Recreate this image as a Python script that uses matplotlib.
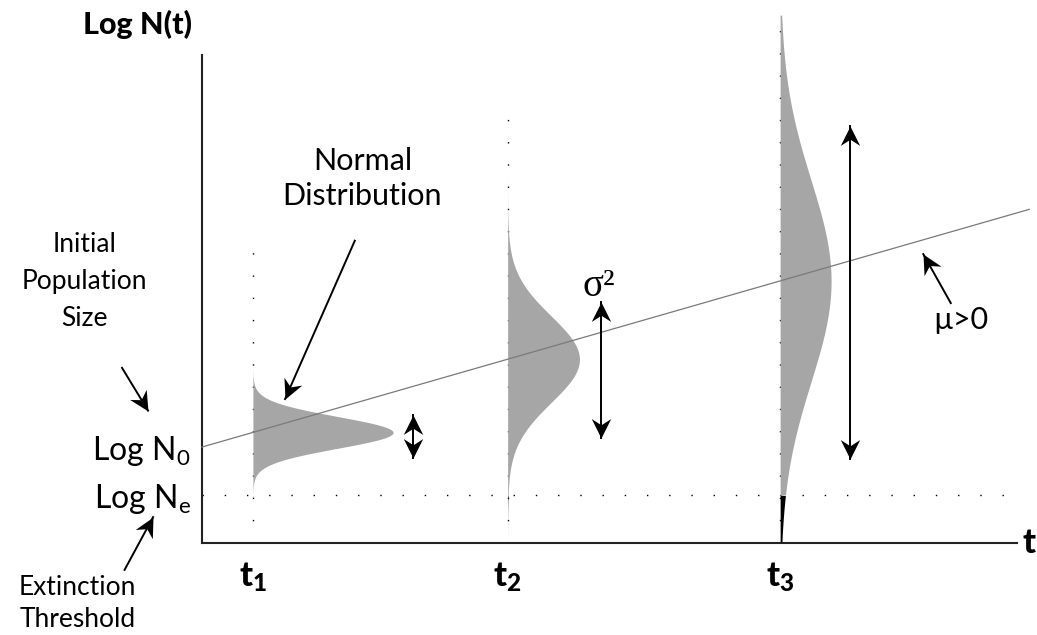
import numpy as np
import matplotlib.pyplot as plt
from matplotlib.path import Path
from matplotlib.markers import MarkerStyle
from matplotlib.transforms import Affine2D

plt.rcParams['font.family'] = ['Lato', 'DejaVu Sans']

# time points and the spread of log N(t) at each one
times = [1.0, 6.0, 11.35]
time_labels = [r'$\mathregular{t_1}$', r'$\mathregular{t_2}$', r'$\mathregular{t_3}$']
log_n0 = 2.0
log_ne = 1.0
mu = 0.305
sds = [0.33, 0.9, 2.1]
peak_widths = [2.75, 1.41, 1.0]
dot_tops = [6.1, 8.9, 11.0]

# double arrows for the variance: x, low end, high end
spread_x = [4.14, 7.84, 12.73]
spread_lo = [1.77, 2.19, 1.75]
spread_hi = [2.67, 5.02, 8.69]

t_end = 16.0
y_end = 10.17
line_end = 16.24

GREY = '#a6a6a6'

fig = plt.figure(figsize=(10.37, 6.35), dpi=100)
ax = fig.add_axes([202 / 1037, 92 / 635, 815 / 1037, 488 / 635])
ax.set_xlim(0, t_end)
ax.set_ylim(0, y_end)

for s in ['top', 'right']:
    ax.spines[s].set_visible(False)
for s in ['left', 'bottom']:
    ax.spines[s].set_linewidth(1.5)
    ax.spines[s].set_color('#222222')

ax.set_xticks(times, time_labels, fontsize=25, fontweight='black')
ax.set_yticks([log_ne, log_n0], [r'Log N$_\mathregular{e}$', r'Log N$_\mathregular{0}$'],
              fontsize=23)
ax.tick_params(axis='x', length=0, pad=13)
ax.tick_params(axis='y', length=0, pad=8)

dots = dict(color='black', lw=1.0, ls=(0, (1, 15)), clip_on=False)
ax.plot([0, t_end], [log_ne, log_ne], **dots)

# the distributions of log N at each time, black part below the threshold
for t, sd, w, top in zip(times, sds, peak_widths, dot_tops):
    ax.plot([t, t], [0, top], **dots)
    m = log_n0 + mu * t
    y = np.linspace(max(m - 4.5 * sd, 0), min(m + 4.5 * sd, top), 600)
    x = t + w * np.exp(-0.5 * ((y - m) / sd) ** 2)
    ax.fill_betweenx(y, t, x, where=y >= log_ne, interpolate=True,
                     color=GREY, lw=0, clip_on=False, zorder=2)
    ax.fill_betweenx(y, t, x, where=y <= log_ne, interpolate=True,
                     color='black', lw=0, clip_on=False, zorder=2)

ax.plot([0, line_end], [log_n0, log_n0 + mu * line_end], color='#7a7a7a',
        lw=0.9, clip_on=False, zorder=3)

# notched arrow head marker, tip at the origin pointing along +x
head = Path([(0, 0), (-1, 0.5), (-0.68, 0), (-1, -0.5), (0, 0)],
            [Path.MOVETO, Path.LINETO, Path.LINETO, Path.LINETO, Path.CLOSEPOLY])


def arrow(x0, y0, x1, y1, both=False, size=28):
    ax.plot([x0, x1], [y0, y1], color='black', lw=1.4, clip_on=False, zorder=4)
    p0 = ax.transData.transform((x0, y0))
    p1 = ax.transData.transform((x1, y1))
    ang = np.degrees(np.arctan2(p1[1] - p0[1], p1[0] - p0[0]))
    ends = [(x1, y1, ang)]
    if both:
        ends.append((x0, y0, ang + 180))
    for x, y, a in ends:
        mk = MarkerStyle(head, transform=Affine2D().rotate_deg(a))
        ax.plot([x], [y], marker=mk, ms=size, color='black', mew=0,
                clip_on=False, zorder=5)


for x, lo, hi in zip(spread_x, spread_lo, spread_hi):
    arrow(x, lo, x, hi, both=True)

arrow(3.0, 6.3, 1.63, 3.00)
arrow(-1.57, 3.65, -1.06, 2.76)
arrow(-1.52, -0.56, -0.96, 0.54)
arrow(14.7, 5.0, 14.16, 6.02)

ax.text(-1.27, 10.8, 'Log N(t)', fontsize=22, fontweight='black',
        ha='center', va='center')
ax.text(16.23, 0.0, 't', fontsize=25, fontweight='black', ha='center', va='center')
ax.text(3.15, 7.6, 'Normal\nDistribution', fontsize=22, ha='center', va='center',
        linespacing=1.3)
ax.text(-2.3, 5.44, 'Initial\nPopulation\nSize', fontsize=19, ha='center',
        va='center', linespacing=1.6)
ax.text(-2.44, -1.27, 'Extinction\nThreshold', fontsize=19, ha='center',
        va='center', linespacing=1.35)
ax.text(7.8, 5.35, 'σ²', fontsize=28, family='Liberation Serif',
        ha='center', va='center')
ax.text(14.9, 4.65, 'µ>0', fontsize=22, ha='center', va='center')

fig.savefig('out.png', dpi=100)
